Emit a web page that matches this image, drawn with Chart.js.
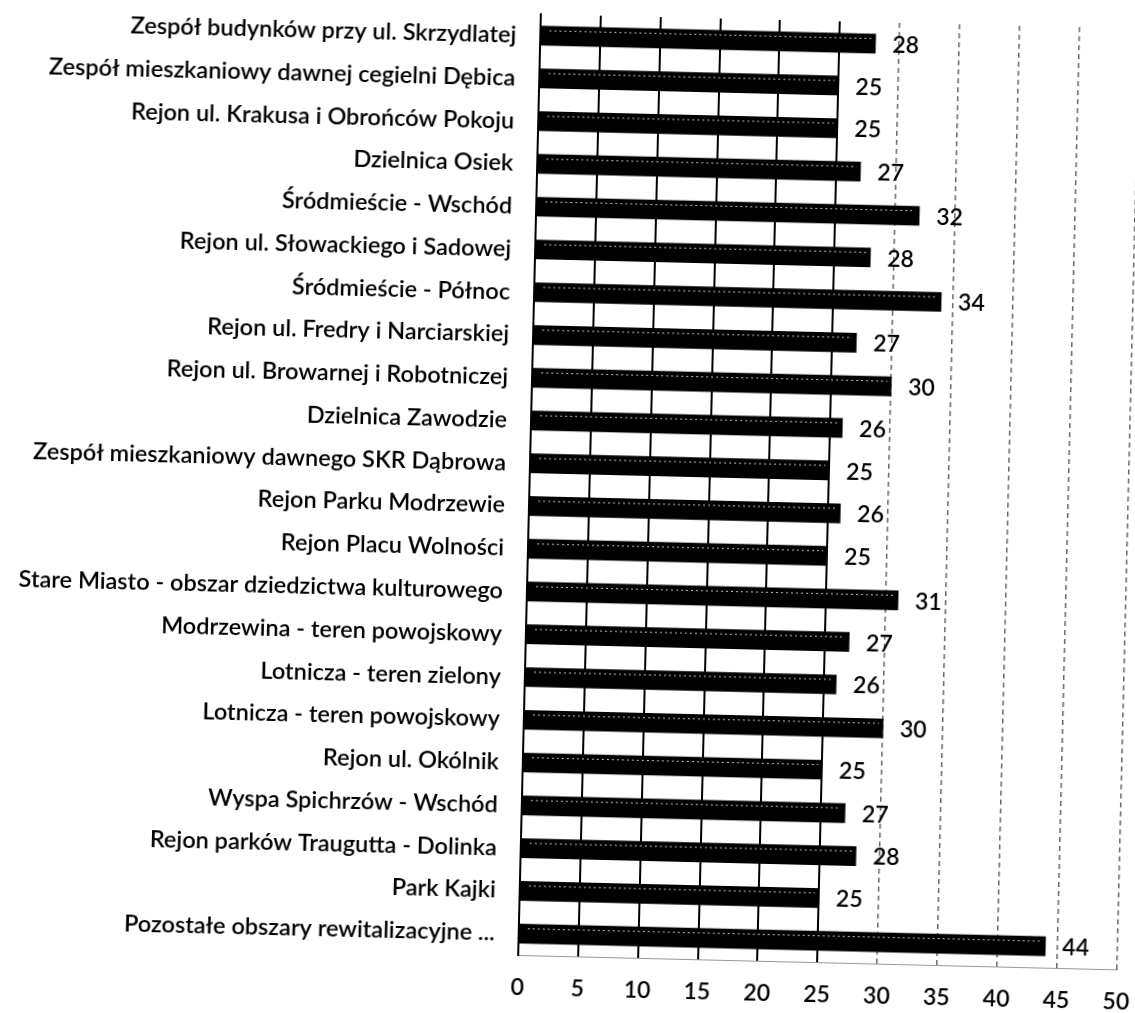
<!DOCTYPE html>
<html>
<head>
<meta charset="utf-8">
<script src="https://cdn.jsdelivr.net/npm/chart.js@4"></script>
<style>
  body { margin: 0; background: #fff; overflow: hidden; }
  #wrap {
    position: absolute; left: 0; top: 0; width: 1160px; height: 1013px;
    transform: rotate(1.38deg); transform-origin: 567px 506px;
  }
</style>
</head>
<body>
<div id="wrap"><canvas id="myChart" width="1160" height="1013"></canvas></div>
<script>
var labels = [
  "Zespół budynków przy ul. Skrzydlatej",
  "Zespół mieszkaniowy dawnej cegielni Dębica",
  "Rejon ul. Krakusa i Obrońców Pokoju",
  "Dzielnica Osiek",
  "Śródmieście - Wschód",
  "Rejon ul. Słowackiego i Sadowej",
  "Śródmieście - Północ",
  "Rejon ul. Fredry i Narciarskiej",
  "Rejon ul. Browarnej i Robotniczej",
  "Dzielnica Zawodzie",
  "Zespół mieszkaniowy dawnego SKR Dąbrowa",
  "Rejon Parku Modrzewie",
  "Rejon Placu Wolności",
  "Stare Miasto - obszar dziedzictwa kulturowego",
  "Modrzewina - teren powojskowy",
  "Lotnicza - teren zielony",
  "Lotnicza - teren powojskowy",
  "Rejon ul. Okólnik",
  "Wyspa Spichrzów - Wschód",
  "Rejon parków Traugutta - Dolinka",
  "Park Kajki",
  "Pozostałe obszary rewitalizacyjne ..."
];
var values = [28, 25, 25, 27, 32, 28, 34, 27, 30, 26, 25, 26, 25, 31, 27, 26, 30, 25, 27, 28, 25, 44];

var axisMin = 0;
var axisMax = 50;
var axisStep = 5;

var FONT = "Lato, 'Liberation Sans', sans-serif";

// value labels at the end of each bar + the light streak on top of the bars
var valueLabels = {
  id: 'valueLabels',
  afterDatasetsDraw: function(chart) {
    var ctx = chart.ctx;
    var meta = chart.getDatasetMeta(0);
    ctx.save();
    ctx.strokeStyle = "rgba(255,255,255,0.75)";
    ctx.lineWidth = 1;
    ctx.setLineDash([2, 3]);
    meta.data.forEach(function(bar) {
      var yy = bar.y - bar.height / 2 + 4.5;
      ctx.beginPath();
      ctx.moveTo(bar.base + 8, yy);
      ctx.lineTo(bar.x - 4, yy);
      ctx.stroke();
    });
    ctx.setLineDash([]);
    ctx.font = "600 23px " + FONT;
    ctx.fillStyle = "#000";
    ctx.textAlign = "left";
    ctx.textBaseline = "middle";
    meta.data.forEach(function(bar, i) {
      ctx.fillText(values[i], bar.x + 17, bar.y + 1);
    });
    ctx.restore();
  }
};

var ctx = document.getElementById('myChart').getContext('2d');
var chart = new Chart(ctx, {
  type: 'bar',
  data: {
    labels: labels,
    datasets: [{
      data: values,
      backgroundColor: "#000",
      borderColor: "#000",
      borderWidth: 0,
      barThickness: 19
    }]
  },
  plugins: [valueLabels],
  options: {
    indexAxis: 'y',
    responsive: false,
    animation: false,
    layout: { padding: { top: 15, right: 27, bottom: 0, left: 0 } },
    plugins: {
      legend: { display: false },
      tooltip: { enabled: false }
    },
    scales: {
      x: {
        position: 'bottom',
        min: axisMin,
        max: axisMax,
        ticks: {
          stepSize: axisStep,
          color: "#000",
          padding: 19,
          font: { family: FONT, size: 23, weight: '600' }
        },
        grid: {
          drawTicks: false,
          lineWidth: 2,
          color: function(c) {
            return c.tick && c.tick.value <= 25 ? "#000" : "rgba(0,0,0,0)";
          }
        },
        border: { display: true, color: "#999", width: 1 },
        afterFit: function(a) { a.height = 57; }
      },
      x2: {
        position: 'top',
        min: axisMin,
        max: axisMax,
        ticks: { stepSize: axisStep, display: false },
        grid: {
          drawTicks: false,
          lineWidth: 1.5,
          color: function(c) {
            return c.tick && c.tick.value > 25 ? "#666" : "rgba(0,0,0,0)";
          }
        },
        border: { display: false, dash: [5, 4] },
        afterFit: function(a) { a.height = 0; }
      },
      y: {
        ticks: {
          color: "#000",
          padding: 24,
          font: { family: FONT, size: 23.5, weight: '600' }
        },
        grid: { display: false, drawTicks: false },
        border: { display: true, color: "#000", width: 2 },
        afterFit: function(a) {
          a.width = 529;
          a.paddingTop = 0;
          a.paddingBottom = 0;
        }
      }
    }
  }
});
</script>
</body>
</html>
